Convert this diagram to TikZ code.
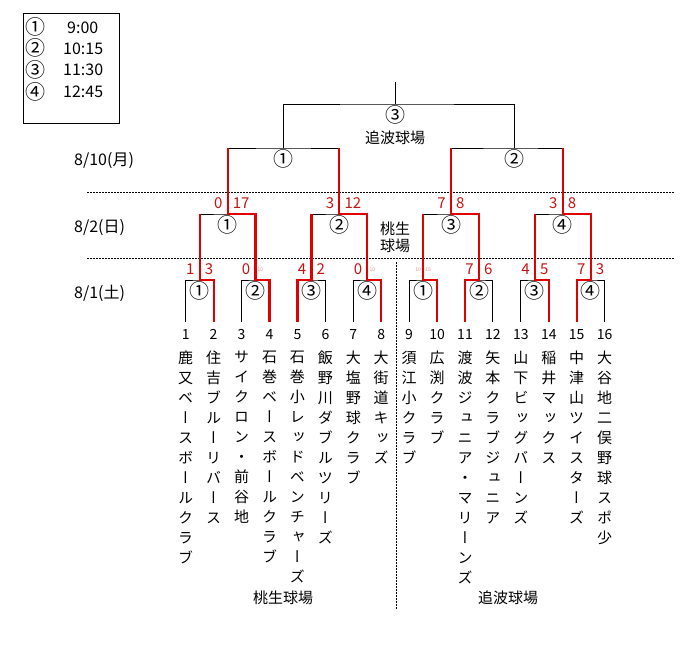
\documentclass[tikz,border=0pt]{standalone}
\usepackage{fontspec}
\setmainfont{Noto Sans CJK JP}
\newfontfamily\tatefont[RawFeature=+vert]{Noto Sans CJK JP}
\usetikzlibrary{positioning}

\definecolor{winred}{RGB}{225,0,0}
\definecolor{scorered}{RGB}{200,20,20}
\definecolor{faintred}{RGB}{235,140,140}

\makeatletter
\newcommand\tatechars[1]{\vbox{\baselineskip=20pt\lineskiplimit=-\maxdimen\tate@i#1\@nil}}
\def\tate@i#1{\ifx#1\@nil\else\hbox to 15pt{\hss#1\hss}\expandafter\tate@i\fi}
\makeatother

\begin{document}
\begin{tikzpicture}[
    x=1pt, y=-1pt,
    every node/.style={font=\fontsize{15}{17}\selectfont},
    line/.style={black, line width=1pt},
    win/.style={winred, line width=2.2pt},
    sep/.style={black, line width=0.8pt, dash pattern=on 1.5pt off 1.5pt},
    num/.style={anchor=north, inner sep=7pt, font=\fontsize{14}{16}\selectfont},
    teamname/.style={anchor=north, inner sep=0pt, font=\tatefont\fontsize{15}{20}\selectfont},
    mnum/.style={inner sep=0pt, font=\fontsize{20}{22}\selectfont},
    score/.style={text=scorered, inner xsep=5pt, inner ysep=3pt, yshift=2pt, font=\fontsize{15}{17}\selectfont},
    tiny/.style={text=faintred, inner sep=2pt, yshift=6pt, font=\fontsize{5}{6}\selectfont},
    day/.style={anchor=west, inner sep=0pt, font=\fontsize{16}{18}\selectfont},
    legendbox/.style={draw, line width=1pt, anchor=north west, minimum width=96pt, minimum height=110pt, inner sep=0pt}
]
\useasboundingbox[fill=white] (0,0) rectangle (692,648);

% time table
\node[legendbox] (legend) at (23,13) {};
\node[mnum] (c1) at (35,27) {①};
\node[mnum] (c2) at (35,48) {②};
\node[mnum] (c3) at (35,70) {③};
\node[mnum] (c4) at (35,92) {④};
\node[anchor=west, inner sep=0pt, font=\fontsize{16}{18}\selectfont] (h1) at (67,28) {9:00};
\node[anchor=west, inner sep=0pt, font=\fontsize{16}{18}\selectfont] (h2) at (63,49) {10:15};
\node[anchor=west, inner sep=0pt, font=\fontsize{16}{18}\selectfont] (h3) at (63,70) {11:30};
\node[anchor=west, inner sep=0pt, font=\fontsize{16}{18}\selectfont] (h4) at (63,92) {12:45};

% dates
\node[day] (d3) at (74,161) {8/10(月)};
\node[day] (d2) at (74,228) {8/2(日)};
\node[day] (d1) at (74,293) {8/1(土)};

\draw[sep] (87,192) -- (675,192);
\draw[sep] (87,258) -- (675,258);
\draw[sep] (396,262) -- (396,610);

% teams
\node[num] (t1) at (185.7,322) {1};
\node[num] (t2) at (213.6,322) {2};
\node[num] (t3) at (241.6,322) {3};
\node[num] (t4) at (269.5,322) {4};
\node[num] (t5) at (297.4,322) {5};
\node[num] (t6) at (325.4,322) {6};
\node[num] (t7) at (353.3,322) {7};
\node[num] (t8) at (381.2,322) {8};
\node[num] (t9) at (409.1,322) {9};
\node[num] (t10) at (437.1,322) {10};
\node[num] (t11) at (465.0,322) {11};
\node[num] (t12) at (492.9,322) {12};
\node[num] (t13) at (520.9,322) {13};
\node[num] (t14) at (548.8,322) {14};
\node[num] (t15) at (576.7,322) {15};
\node[num] (t16) at (604.7,322) {16};

\node[teamname, below=4pt of t1] (n1) {\tatechars{鹿又ベースボールクラブ}};
\node[teamname, below=4pt of t2] (n2) {\tatechars{住吉ブルーリバース}};
\node[teamname, below=4pt of t3] (n3) {\tatechars{サイクロン・前谷地}};
\node[teamname, below=4pt of t4] (n4) {\tatechars{石巻ベースボールクラブ}};
\node[teamname, below=4pt of t5] (n5) {\tatechars{石巻小レッドベンチャーズ}};
\node[teamname, below=4pt of t6] (n6) {\tatechars{飯野川ダブルツリーズ}};
\node[teamname, below=4pt of t7] (n7) {\tatechars{大塩野球クラブ}};
\node[teamname, below=4pt of t8] (n8) {\tatechars{大街道キッズ}};
\node[teamname, below=4pt of t9] (n9) {\tatechars{須江小クラブ}};
\node[teamname, below=4pt of t10] (n10) {\tatechars{広渕クラブ}};
\node[teamname, below=4pt of t11] (n11) {\tatechars{渡波ジュニア・マリーンズ}};
\node[teamname, below=4pt of t12] (n12) {\tatechars{矢本クラブジュニア}};
\node[teamname, below=4pt of t13] (n13) {\tatechars{山下ビッグバーンズ}};
\node[teamname, below=4pt of t14] (n14) {\tatechars{稲井マックス}};
\node[teamname, below=4pt of t15] (n15) {\tatechars{中津山ツイスターズ}};
\node[teamname, below=4pt of t16] (n16) {\tatechars{大谷地二俣野球スポ少}};

\node (venue1) at (283,598) {桃生球場};
\node (venue4) at (508,598) {追波球場};

% bracket points
\coordinate (m1) at (199.7,280);
\coordinate (m2) at (255.5,280);
\coordinate (m3) at (311.4,280);
\coordinate (m4) at (367.3,280);
\coordinate (m5) at (423.1,280);
\coordinate (m6) at (479.0,280);
\coordinate (m7) at (534.8,280);
\coordinate (m8) at (590.7,280);
\coordinate (q1) at (227.6,214);
\coordinate (q2) at (339.3,214);
\coordinate (q3) at (451.0,214);
\coordinate (q4) at (562.7,214);
\coordinate (s1) at (283.5,148);
\coordinate (s2) at (514,148);
\coordinate (f) at (395,104);
\coordinate (top) at (395,82);

\draw[line] (t1.north) |- (m1) -| (t2.north);
\draw[line] (t3.north) |- (m2) -| (t4.north);
\draw[line] (t5.north) |- (m3) -| (t6.north);
\draw[line] (t7.north) |- (m4) -| (t8.north);
\draw[line] (t9.north) |- (m5) -| (t10.north);
\draw[line] (t11.north) |- (m6) -| (t12.north);
\draw[line] (t13.north) |- (m7) -| (t14.north);
\draw[line] (t15.north) |- (m8) -| (t16.north);
\draw[line] (m1) |- (q1) -| (m2);
\draw[line] (m3) |- (q2) -| (m4);
\draw[line] (m5) |- (q3) -| (m6);
\draw[line] (m7) |- (q4) -| (m8);
\draw[line] (q1) |- (s1) -| (q2);
\draw[line] (q3) |- (s2) -| (q4);
\draw[line] (s1) |- (f) -| (s2);
\draw[line] (f) -- (top);

% winners
\draw[win] (t2.north) |- (m1) -- (m1 |- q1);
\draw[win] (t4.north) |- (m2) |- (q1) -- (q1 |- s1);
\draw[win] (t5.north) |- (m3) -- (m3 |- q2);
\draw[win] (t8.north) |- (m4) |- (q2) -- (q2 |- s1);
\draw[win] (t10.north) |- (m5) -- (m5 |- q3);
\draw[win] (t11.north) |- (m6) |- (q3) -- (q3 |- s2);
\draw[win] (t14.north) |- (m7) -- (m7 |- q4);
\draw[win] (t15.north) |- (m8) |- (q4) -- (q4 |- s2);

% match numbers
\node[mnum, below=1pt of m1] (g1) {①};
\node[mnum, below=1pt of m2] (g2) {②};
\node[mnum, below=1pt of m3] (g3) {③};
\node[mnum, below=1pt of m4] (g4) {④};
\node[mnum, below=1pt of m5] (g5) {①};
\node[mnum, below=1pt of m6] (g6) {②};
\node[mnum, below=1pt of m7] (g7) {③};
\node[mnum, below=1pt of m8] (g8) {④};
\node[mnum, below=1pt of q1] (g9) {①};
\node[mnum, below=1pt of q2] (g10) {②};
\node[mnum, below=1pt of q3] (g11) {③};
\node[mnum, below=1pt of q4] (g12) {④};
\node[mnum, below=1pt of s1] (g13) {①};
\node[mnum, below=1pt of s2] (g14) {②};
\node[mnum, below=1pt of f] (g15) {③};
\node (venue3) at (395,138) {追波球場};
\node[align=center, inner sep=0pt] (venue2) at (395,237) {桃生\\球場};

% scores
\node[score, anchor=south east] (a1) at (m1) {1};
\node[score, anchor=south west] (b1) at (m1) {3};
\node[score, anchor=south east] (a2) at (m2) {0};
\node[tiny, anchor=south west] (b2) at (m2) {10};
\node[score, anchor=south east] (a3) at (m3) {4};
\node[score, anchor=south west] (b3) at (m3) {2};
\node[score, anchor=south east] (a4) at (m4) {0};
\node[tiny, anchor=south west] (b4) at (m4) {10};
\node[tiny, anchor=south east] (a5) at (m5) {10};
\node[tiny, anchor=south west] (b5) at (m5) {15};
\node[score, anchor=south east] (a6) at (m6) {7};
\node[score, anchor=south west] (b6) at (m6) {6};
\node[score, anchor=south east] (a7) at (m7) {4};
\node[score, anchor=south west] (b7) at (m7) {5};
\node[score, anchor=south east] (a8) at (m8) {7};
\node[score, anchor=south west] (b8) at (m8) {3};
\node[score, anchor=south east] (a9) at (q1) {0};
\node[score, anchor=south west] (b9) at (q1) {17};
\node[score, anchor=south east] (a10) at (q2) {3};
\node[score, anchor=south west] (b10) at (q2) {12};
\node[score, anchor=south east] (a11) at (q3) {7};
\node[score, anchor=south west] (b11) at (q3) {8};
\node[score, anchor=south east] (a12) at (q4) {3};
\node[score, anchor=south west] (b12) at (q4) {8};

\end{tikzpicture}
\end{document}
